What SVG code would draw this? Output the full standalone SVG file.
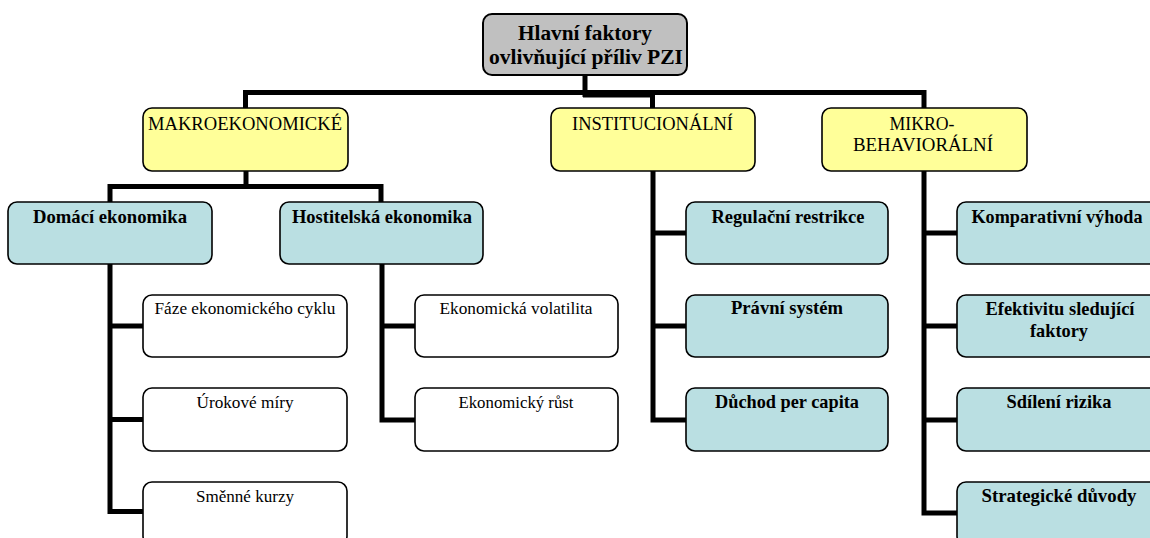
<svg xmlns="http://www.w3.org/2000/svg" width="1150" height="538" viewBox="0 0 1150 538" font-family="'Liberation Serif', 'DejaVu Serif', serif">
<style>
.box{stroke:#000;stroke-width:1.6}
.root{fill:#C0C0C0;stroke-width:2}
.yel{fill:#FFFF99}
.blue{fill:#BADFE2}
.white{fill:#FFFFFF}
text{font-family:'Liberation Serif','DejaVu Serif',serif;fill:#000;text-anchor:middle}
.tb{font-weight:bold;font-size:18.3px}
.tr{font-size:18.4px}
.tw{font-size:17.2px}
.tt{font-weight:bold;font-size:20px}
.conn{fill:none;stroke:#000;stroke-width:5;stroke-linejoin:miter;stroke-linecap:butt}
</style>
<g id="connectors" class="conn">
<path d="M585,75 V97"/>
<path d="M245.5,108 V92.5 H924 V108"/>
<path d="M583,95 H652.5 V108"/>
<path d="M246,171 V186.5"/>
<path d="M110,202 V186.5 H381 V202"/>
<path d="M110,264 V511.5 H143"/>
<path d="M110,326 H143"/>
<path d="M110,419.5 H143"/>
<path d="M382,264 V420 H415"/>
<path d="M382,326 H415"/>
<path d="M653,171 V420 H686"/>
<path d="M653,233 H686"/>
<path d="M653,326 H686"/>
<path d="M924,171 V513 H957"/>
<path d="M924,233 H957"/>
<path d="M924,326 H957"/>
<path d="M924,420 H957"/>
</g>
<g id="root"><rect class="box root" x="483" y="14" width="204" height="61" rx="9"/>
<text class="tt" x="585" y="40" textLength="134" lengthAdjust="spacingAndGlyphs">Hlavní faktory</text>
<text class="tt" x="586" y="64" textLength="194" lengthAdjust="spacingAndGlyphs">ovlivňující příliv PZI</text></g>
<g id="makro"><rect class="box yel" x="143" y="108" width="205" height="63" rx="9"/>
<text class="tr" x="245" y="130" textLength="194" lengthAdjust="spacingAndGlyphs">MAKROEKONOMICKÉ</text></g>
<g id="inst"><rect class="box yel" x="551" y="108" width="204" height="63" rx="9"/>
<text class="tr" x="652.5" y="130" textLength="161" lengthAdjust="spacingAndGlyphs">INSTITUCIONÁLNÍ</text></g>
<g id="mikro"><rect class="box yel" x="822" y="108" width="205" height="63" rx="9"/>
<text class="tr" x="922" y="130" textLength="65" lengthAdjust="spacingAndGlyphs">MIKRO-</text>
<text class="tr" x="923" y="151" textLength="140" lengthAdjust="spacingAndGlyphs">BEHAVIORÁLNÍ</text></g>
<g id="domaci"><rect class="box blue" x="8" y="202" width="204" height="62" rx="9"/>
<text class="tb" x="110" y="223" textLength="154" lengthAdjust="spacingAndGlyphs">Domácí ekonomika</text></g>
<g id="hostitelska"><rect class="box blue" x="280" y="202" width="203" height="62" rx="9"/>
<text class="tb" x="382" y="223" textLength="180" lengthAdjust="spacingAndGlyphs">Hostitelská ekonomika</text></g>
<g id="regulacni"><rect class="box blue" x="686" y="202" width="202" height="62" rx="9"/>
<text class="tb" x="788" y="223" textLength="153" lengthAdjust="spacingAndGlyphs">Regulační restrikce</text></g>
<g id="komparativni"><rect class="box blue" x="957" y="202" width="202" height="62" rx="9"/>
<text class="tb" x="1057" y="223" textLength="171" lengthAdjust="spacingAndGlyphs">Komparativní výhoda</text></g>
<g id="faze"><rect class="box white" x="143" y="295" width="204" height="62" rx="9"/>
<text class="tw" x="245" y="314" textLength="181" lengthAdjust="spacingAndGlyphs">Fáze ekonomického cyklu</text></g>
<g id="urokove"><rect class="box white" x="143" y="388" width="204" height="63" rx="9"/>
<text class="tw" x="245" y="408" textLength="97" lengthAdjust="spacingAndGlyphs">Úrokové míry</text></g>
<g id="smenne"><rect class="box white" x="143" y="482" width="204" height="63" rx="9"/>
<text class="tw" x="245" y="502" textLength="98" lengthAdjust="spacingAndGlyphs">Směnné kurzy</text></g>
<g id="volatilita"><rect class="box white" x="415" y="295" width="203" height="62" rx="9"/>
<text class="tw" x="516" y="314" textLength="153" lengthAdjust="spacingAndGlyphs">Ekonomická volatilita</text></g>
<g id="rust"><rect class="box white" x="415" y="388" width="203" height="63" rx="9"/>
<text class="tw" x="516" y="408" textLength="115" lengthAdjust="spacingAndGlyphs">Ekonomický růst</text></g>
<g id="pravni"><rect class="box blue" x="686" y="295" width="202" height="62" rx="9"/>
<text class="tb" x="787" y="314" textLength="112" lengthAdjust="spacingAndGlyphs">Právní systém</text></g>
<g id="duchod"><rect class="box blue" x="686" y="388" width="202" height="63" rx="9"/>
<text class="tb" x="787" y="408" textLength="144" lengthAdjust="spacingAndGlyphs">Důchod per capita</text></g>
<g id="efektivitu"><rect class="box blue" x="957" y="295" width="202" height="62" rx="9"/>
<text class="tb" x="1060" y="315" textLength="149" lengthAdjust="spacingAndGlyphs">Efektivitu sledující</text>
<text class="tb" x="1059" y="337" textLength="58" lengthAdjust="spacingAndGlyphs">faktory</text></g>
<g id="sdileni"><rect class="box blue" x="957" y="388" width="202" height="63" rx="9"/>
<text class="tb" x="1059" y="408" textLength="105" lengthAdjust="spacingAndGlyphs">Sdílení rizika</text></g>
<g id="strategicke"><rect class="box blue" x="957" y="482" width="202" height="63" rx="9"/>
<text class="tb" x="1059" y="502" textLength="155" lengthAdjust="spacingAndGlyphs">Strategické důvody</text></g>
</svg>
